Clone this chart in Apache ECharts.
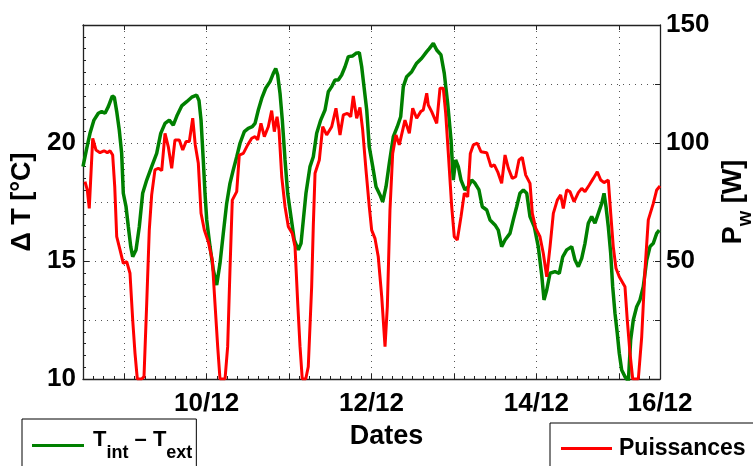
<!DOCTYPE html>
<html>
<head>
<meta charset="utf-8">
<script src="https://cdn.jsdelivr.net/npm/echarts@6/dist/echarts.min.js"></script>
<style>
html,body{margin:0;padding:0;background:#fff;}
#chart{width:753px;height:466px;}
</style>
</head>
<body>
<div id="chart"></div>
<script>
// ---- data (x = day of December, fractional) ----
const greenName = 'T_int - T_ext';
const redName = 'Puissances';

const greenDays = [8.50,8.545,8.585,8.633,8.686,8.727,8.767,8.807,8.855,8.880,
8.909,8.940,8.969,8.989,9.022,9.050,9.079,9.103,9.143,9.183,
9.224,9.273,9.333,9.394,9.443,9.495,9.547,9.595,9.644,9.697,
9.758,9.819,9.879,9.907,9.932,9.959,9.980,10.001,10.041,10.081,
10.122,10.162,10.202,10.243,10.283,10.323,10.365,10.405,10.457,10.505,
10.554,10.587,10.627,10.668,10.716,10.769,10.809,10.838,10.862,10.890,
10.918,10.951,10.983,11.023,11.063,11.112,11.145,11.173,11.205,11.254,
11.294,11.335,11.384,11.436,11.476,11.517,11.557,11.597,11.638,11.679,
11.719,11.772,11.812,11.852,11.881,11.909,11.942,11.973,12.015,12.055,
12.103,12.136,12.176,12.216,12.265,12.313,12.354,12.386,12.427,12.488,
12.548,12.609,12.670,12.701,12.750,12.791,12.843,12.883,12.924,12.965,
12.992,13.021,13.053,13.086,13.134,13.174,13.216,13.256,13.304,13.344,
13.398,13.438,13.498,13.538,13.579,13.620,13.680,13.720,13.761,13.801,
13.842,13.883,13.923,13.975,14.023,14.065,14.093,14.126,14.166,14.226,
14.278,14.320,14.368,14.429,14.469,14.509,14.550,14.590,14.630,14.671,
14.711,14.752,14.793,14.821,14.845,14.873,14.902,14.926,14.954,14.982,
15.006,15.035,15.075,15.116,15.144,15.176,15.217,15.257,15.297,15.339,
15.379,15.419,15.460,15.491];

const greenValues = [19.0,19.77,20.41,20.97,21.26,21.33,21.26,21.54,21.99,21.94,
21.33,20.55,19.56,17.87,17.30,16.45,15.61,15.18,15.47,16.45,
17.87,18.43,19.0,19.56,20.41,20.83,20.97,20.76,21.19,21.57,
21.75,21.94,22.03,21.8,20.97,19.28,17.87,16.74,15.61,14.62,
13.98,14.90,16.17,17.44,18.29,18.86,19.42,19.99,20.48,20.62,
20.69,20.83,21.40,21.89,22.32,22.60,22.95,23.16,22.88,22.11,
20.97,19.28,17.87,16.88,15.89,15.47,15.75,16.74,17.87,19.0,
19.42,20.41,20.97,21.40,22.17,22.39,22.67,22.67,22.88,23.23,
23.66,23.69,23.80,23.83,23.23,22.39,21.40,19.84,19.0,18.15,
17.80,17.51,18.15,19.14,20.27,20.69,21.11,22.39,22.81,23.02,
23.38,23.59,23.87,24.0,24.22,23.94,23.73,22.95,21.68,20.13,
18.43,19.28,19.0,18.43,18.01,18.15,18.43,18.29,18.01,17.30,
17.16,16.74,16.53,16.31,15.61,15.89,16.17,16.74,17.30,17.87,
18.01,17.87,16.88,16.45,15.61,14.40,13.35,13.77,14.48,14.55,
14.48,15.18,15.47,15.61,15.04,14.76,15.11,15.75,16.60,16.88,
16.60,17.02,17.44,17.87,17.30,16.45,15.32,13.91,12.78,11.93,
11.09,10.38,10.1,9.9,11.65,12.5,13.06,13.35,13.91,15.04,
15.61,15.75,16.17,16.31];

const redDays = [8.524,8.552,8.576,8.618,8.658,8.706,8.755,8.795,8.828,8.860,
8.885,8.909,8.949,8.989,9.030,9.070,9.103,9.131,9.159,9.212,
9.240,9.273,9.304,9.333,9.373,9.414,9.455,9.495,9.535,9.576,
9.616,9.668,9.710,9.750,9.790,9.831,9.862,9.899,9.932,9.972,
10.020,10.069,10.101,10.134,10.162,10.223,10.255,10.283,10.311,10.365,
10.396,10.445,10.498,10.547,10.587,10.619,10.659,10.700,10.748,10.789,
10.821,10.854,10.878,10.911,10.951,10.991,11.039,11.072,11.105,11.133,
11.160,11.202,11.233,11.274,11.294,11.315,11.367,11.408,11.456,11.517,
11.569,11.618,11.658,11.706,11.748,11.779,11.820,11.860,11.893,11.933,
11.973,12.002,12.042,12.082,12.124,12.164,12.192,12.224,12.257,12.297,
12.337,12.406,12.459,12.500,12.548,12.597,12.628,12.670,12.689,12.730,
12.791,12.831,12.871,12.900,12.932,12.973,13.004,13.041,13.086,13.126,
13.167,13.199,13.235,13.284,13.328,13.398,13.450,13.490,13.531,13.579,
13.620,13.660,13.708,13.749,13.789,13.829,13.871,13.923,13.951,13.992,
14.044,14.084,14.126,14.166,14.206,14.254,14.295,14.327,14.368,14.408,
14.457,14.509,14.550,14.590,14.642,14.691,14.739,14.781,14.821,14.873,
14.902,14.933,14.966,15.006,15.075,15.103,15.136,15.169,15.237,15.278,
15.318,15.358,15.419,15.460,15.500];

const redValues = [83.6,80.1,72.3,102.0,97.0,95.9,96.7,95.9,96.7,94.9,
81.5,60.3,54.7,49.0,49.7,44.8,25.0,10.9,0,0,
1.0,32.1,63.1,78.0,88.6,89.3,88.3,104.1,98.4,89.3,
101.3,101.3,97.0,100.6,100.6,110.5,99.2,91.4,70.2,63.1,
58.2,50.4,32.1,13.7,0,0,13.7,46.2,75.8,79.4,
94.9,95.6,99.2,102.0,102.7,101.3,108.3,102.7,106.9,113.7,
104.8,111.1,105.5,85.7,73.0,64.5,61.7,56.1,32.1,13.7,
0,0,5.2,39.1,65.0,87.2,92.8,106.9,103.4,106.9,
114.7,103.4,111.9,112.6,111.1,119.9,110.5,115.1,105.5,88.6,
73.0,63.1,59.6,51.8,34.9,13.7,30.6,71.6,95.6,103.4,
99.2,109.7,104.1,114.7,110.5,113.3,114.0,121.1,116.1,113.3,
108.3,123.2,123.2,112.6,95.6,73.0,60.3,58.9,68.8,78.7,
77.2,95.6,99.2,99.9,96.3,95.9,90.0,90.7,87.8,82.9,
94.9,89.3,85.0,85.7,92.8,93.9,86.4,82.9,70.2,63.9,
60.3,53.3,43.3,56.1,70.2,75.8,78.0,72.3,80.1,79.4,
75.1,79.0,80.8,79.4,82.2,85.0,87.8,84.3,83.2,84.3,
70.2,56.1,46.9,43.3,39.1,25.0,10.9,0,0,17.9,
46.2,67.4,74.4,80.1,81.8];

const xGridDays = [9, 10, 11, 12, 13, 14, 15];
const xTickValues = [10, 12, 14, 15.5];
const xTickLabels = ['10/12', '12/12', '14/12', '16/12'];
const leftTicks = [10, 15, 20];
const rightTicks = [50, 100, 150];

// ---- chart ----
const FONT = '"Liberation Sans", Arial, Helvetica, sans-serif';
const AX = '#222';
const GRIDC = '#555';
const zip = (a, b) => a.map((v, i) => [v, b[i]]);

const chart = echarts.init(document.getElementById('chart'), null, {renderer: 'canvas'});
const baseTxt = {fontFamily: FONT, fontWeight: 'bold', color: '#000'};

const option = {
  animation: false,
  backgroundColor: '#fff',
  textStyle: baseTxt,
  grid: {left: 83, right: 93, top: 25, bottom: 87, containLabel: false, outerBoundsMode: 'none'},
  legend: [
    {
      left: 22, top: 419, orient: 'horizontal', selectedMode: false,
      data: [greenName], icon: 'rect', itemWidth: 52, itemHeight: 3,
      borderColor: '#000', borderWidth: 1, padding: [10, 4, 20, 10],
      formatter: () => '{m0|T}{s|int}{m| \u2013 T}{s|ext}',
      textStyle: {
        ...baseTxt,
        rich: {
          m0: {...baseTxt, fontSize: 22, lineHeight: 24, verticalAlign: 'top', padding: [0, 0, 0, 4]},
          m: {...baseTxt, fontSize: 22, lineHeight: 24, verticalAlign: 'top'},
          s: {...baseTxt, fontSize: 18, verticalAlign: 'top', padding: [15, 0, 0, 0]}
        }
      }
    },
    {
      left: 550, top: 423, orient: 'horizontal', selectedMode: false,
      data: [redName], icon: 'rect', itemWidth: 51, itemHeight: 3,
      borderColor: '#000', borderWidth: 1, padding: [14, 80, 20, 11],
      formatter: () => '{p|Puissances}',
      textStyle: {...baseTxt, rich: {p: {...baseTxt, fontSize: 23, padding: [0, 0, 0, 2]}}}
    }
  ],
  xAxis: [
    {
      type: 'value', position: 'bottom', min: 8.5, max: 15.5,
      name: 'Dates', nameLocation: 'middle', nameGap: 44,
      nameTextStyle: {...baseTxt, fontSize: 27, padding: [0, 0, 0, 30]},
      axisLine: {show: true, onZero: false, lineStyle: {color: AX, width: 1.3}},
      axisTick: {show: true, inside: true, length: 5, customValues: xGridDays, lineStyle: {color: AX}},
      axisLabel: {
        show: true, customValues: xTickValues, margin: 12,
        ...baseTxt, fontSize: 26,
        formatter: v => { const i = xTickValues.findIndex(t => Math.abs(t - v) < 1e-6); return i >= 0 ? xTickLabels[i] : ''; }
      },
      splitLine: {show: true, lineStyle: {type: [1, 5], color: GRIDC, width: 1}}
    },
    {
      type: 'value', position: 'top', min: 8.5, max: 15.5,
      axisLine: {show: true, onZero: false, lineStyle: {color: AX, width: 1.3}},
      axisTick: {show: true, inside: true, length: 5, customValues: xGridDays, lineStyle: {color: AX}},
      axisLabel: {show: false}, splitLine: {show: false}
    },
    {
      type: 'value', position: 'bottom', min: 8.5, max: 15.5, interval: 0.125,
      axisLine: {show: false},
      axisTick: {show: true, inside: true, length: 3, lineStyle: {color: AX}},
      axisLabel: {show: false}, splitLine: {show: false}
    }
  ],
  yAxis: [
    {
      type: 'value', position: 'left', min: 10, max: 25, interval: 5,
      name: '\u0394 T [\u00b0C]', nameLocation: 'middle', nameRotate: 90, nameGap: 43,
      nameTextStyle: {...baseTxt, fontSize: 27},
      axisLine: {show: true, onZero: false, lineStyle: {color: AX, width: 1.3}},
      axisTick: {show: true, inside: true, length: 6, lineStyle: {color: AX}},
      minorTick: {show: true, splitNumber: 10, length: 3, lineStyle: {color: AX}},
      axisLabel: {...baseTxt, fontSize: 26, margin: 7, formatter: v => leftTicks.includes(v) ? String(v) : ''},
      splitLine: {show: false}
    },
    {
      type: 'value', position: 'right', min: 0, max: 150, interval: 25,
      name: '{m|P}{s|w}{m| [W]}', nameLocation: 'middle', nameRotate: 90, nameGap: 58,
      nameTextStyle: {
        ...baseTxt, fontSize: 27,
        rich: {
          m: {...baseTxt, fontSize: 27, verticalAlign: 'top'},
          s: {...baseTxt, fontSize: 20, verticalAlign: 'top', padding: [15, 0, 0, 0]}
        }
      },
      axisLine: {show: true, onZero: false, lineStyle: {color: AX, width: 1.3}},
      axisTick: {show: true, inside: true, length: 5, lineStyle: {color: AX}},
      axisLabel: {...baseTxt, fontSize: 26, margin: 6, formatter: v => rightTicks.includes(v) ? String(v) : ''},
      splitLine: {show: true, lineStyle: {type: [1, 5], color: GRIDC, width: 1}}
    }
  ],
  series: [
    {
      name: greenName, type: 'line', xAxisIndex: 0, yAxisIndex: 0,
      data: zip(greenDays, greenValues), showSymbol: false, symbol: 'none',
      lineStyle: {color: '#008000', width: 3.5}, itemStyle: {color: '#008000'}, clip: true
    },
    {
      name: redName, type: 'line', xAxisIndex: 0, yAxisIndex: 1,
      data: zip(redDays, redValues), showSymbol: false, symbol: 'none',
      lineStyle: {color: '#ff0000', width: 3}, itemStyle: {color: '#ff0000'}, clip: true
    }
  ]
};
chart.setOption(option);
</script>
</body>
</html>
